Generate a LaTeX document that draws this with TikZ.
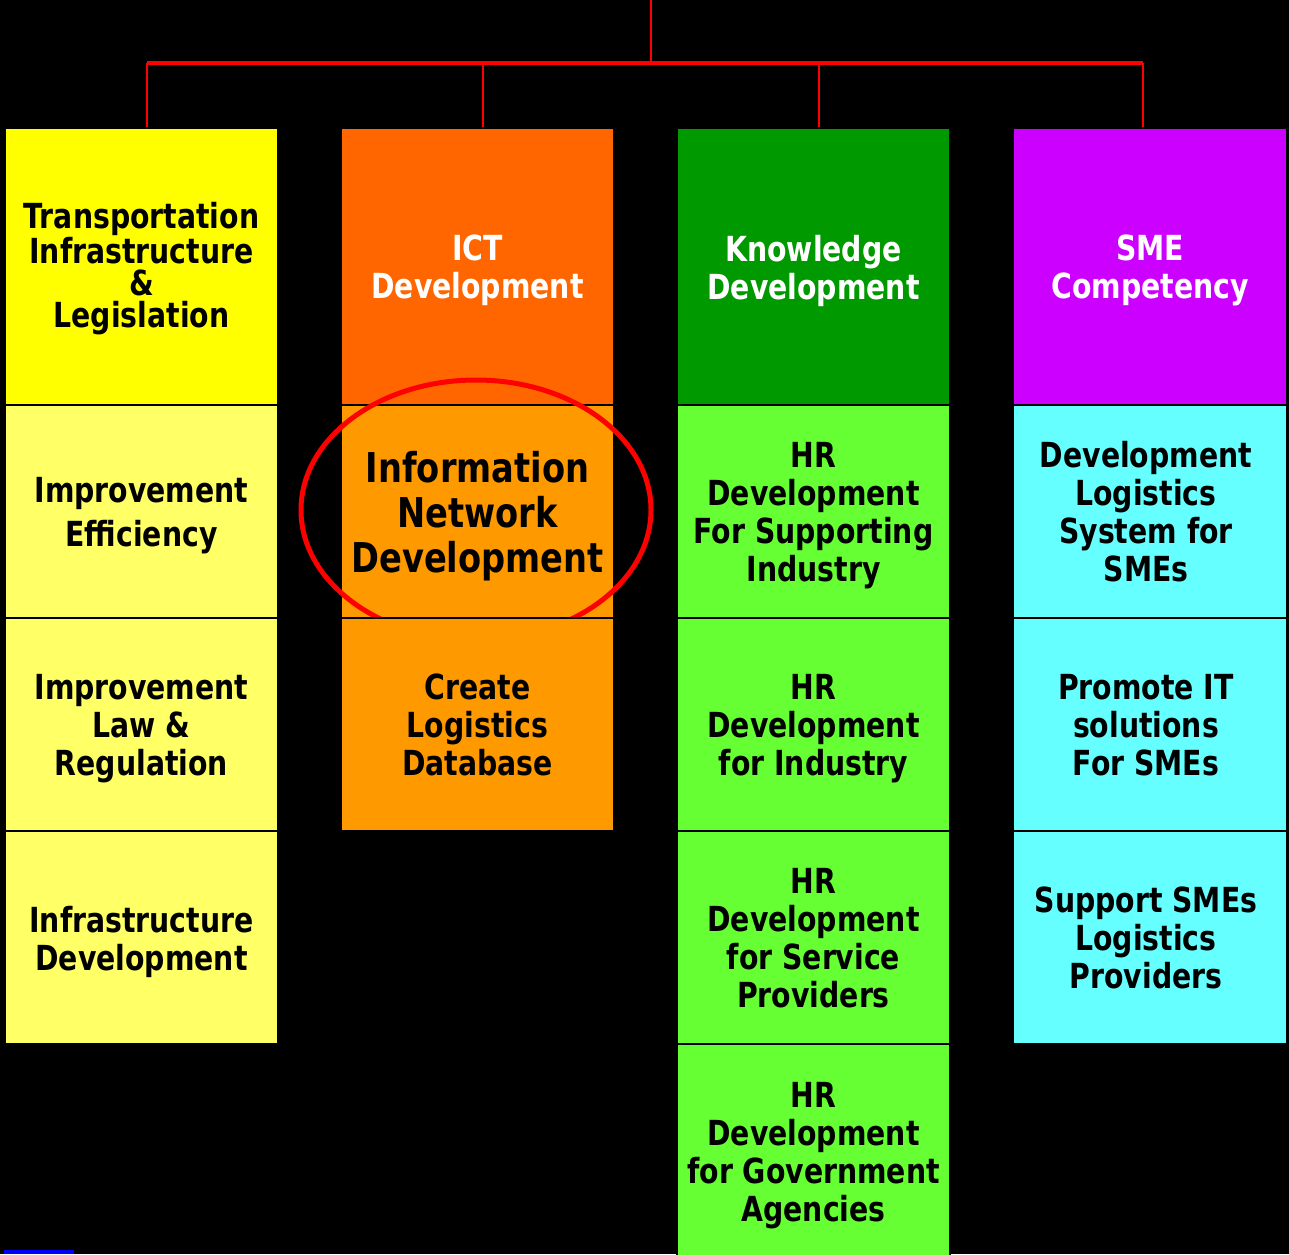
\documentclass[tikz,border=0pt]{standalone}
\usepackage{fontspec}
\newfontfamily\boxfont{DejaVu Sans Bold}[FakeStretch=0.82]
\def\px{0.75pt}
\newcommand\lastdp{\rule[-6.2pt]{0pt}{6.2pt}}
\definecolor{hYel}{HTML}{FFFF00}
\definecolor{rYel}{HTML}{FFFF66}
\definecolor{hOra}{HTML}{FF6600}
\definecolor{rOra}{HTML}{FF9900}
\definecolor{hGre}{HTML}{009900}
\definecolor{rGre}{HTML}{66FF33}
\definecolor{hPur}{HTML}{CC00FF}
\definecolor{rCya}{HTML}{66FFFF}
\definecolor{lineRed}{HTML}{FF0000}
\definecolor{barBlue}{HTML}{0000FF}
\tikzset{
  cell/.style={draw=black, line width=1.5*\px, minimum width=273*\px, inner sep=0pt},
  hdr/.style={cell, minimum height=277*\px},
  row/.style={cell, minimum height=213*\px},
  txt/.style={inner sep=0pt, align=center, text=black, yshift=-3.2pt,
    font=\boxfont\fontsize{25.9pt}{28.5pt}\selectfont},
  whitetext/.style={text=white},
  bigtext/.style={font=\boxfont\fontsize{30.8pt}{33.75pt}\selectfont},
  redline/.style={draw=lineRed, line width=2.5*\px},
  redbar/.style={draw=lineRed, line width=4*\px},
}
\begin{document}
\begin{tikzpicture}[x=0.75pt, y=-0.75pt]
\useasboundingbox (0,0) rectangle (1289,1254);
\fill[black] (0,0) rectangle (1289,1254);

% header row
\node[hdr, fill=hYel] (h1) at (141.5,266.5) {};
\node[txt, font=\boxfont\fontsize{25.9pt}{24.2pt}\selectfont, yshift=1.5pt] (h1t) at (h1.center) {Transportation\\Infrastructure\\\&\\Legislation};
\node[hdr, fill=hOra] (h2) at (477.5,266.5) {};
\node[txt, whitetext] (h2t) at (h2.center) {ICT\\Development};
\node[hdr, fill=hGre] (h3) at (813.5,266.5) {};
\node[txt, whitetext] (h3t) at (h3.center) {Knowledge\\Development};
\node[hdr, fill=hPur] (h4) at (1150,266.5) {};
\node[txt, whitetext] (h4t) at (h4.center) {SME\\Competency};

% row 1
\node[row, fill=rYel] (a1) at (141.5,511.5) {};
\node[txt, font=\boxfont\fontsize{25.9pt}{33pt}\selectfont] (a1t) at (a1.center) {Improvement\\Efficiency};
\node[row, fill=rOra] (b1) at (477.5,511.5) {};
\node[txt, bigtext] (b1t) at (b1.center) {Information\\Network\\Development};
\node[row, fill=rGre] (c1) at (813.5,511.5) {};
\node[txt] (c1t) at (c1.center) {HR\\Development\\For Supporting\\Industry};
\node[row, fill=rCya] (d1) at (1150,511.5) {};
\node[txt, xshift=-3pt] (d1t) at (d1.center) {Development\\Logistics\\System for\\SMEs\lastdp};

% highlight ellipse
\draw[draw=lineRed, line width=5*\px] (476,510) ellipse [x radius=175, y radius=130];

% row 2
\node[row, fill=rYel] (a2) at (141.5,724.5) {};
\node[txt] (a2t) at (a2.center) {Improvement\\Law \&\\Regulation};
\node[row, fill=rOra] (b2) at (477.5,724.5) {};
\node[txt] (b2t) at (b2.center) {Create\\Logistics\\Database\lastdp};
\node[row, fill=rGre] (c2) at (813.5,724.5) {};
\node[txt] (c2t) at (c2.center) {HR\\Development\\for Industry};
\node[row, fill=rCya] (d2) at (1150,724.5) {};
\node[txt, xshift=-3pt] (d2t) at (d2.center) {Promote IT\\solutions\\For SMEs\lastdp};

% row 3
\node[row, fill=rYel] (a3) at (141.5,937.5) {};
\node[txt] (a3t) at (a3.center) {Infrastructure\\Development};
\node[row, fill=rGre] (c3) at (813.5,937.5) {};
\node[txt] (c3t) at (c3.center) {HR\\Development\\for Service\\Providers\lastdp};
\node[row, fill=rCya] (d3) at (1150,937.5) {};
\node[txt, xshift=-3pt] (d3t) at (d3.center) {Support SMEs\\Logistics\\Providers\lastdp};

% row 4
\node[row, fill=rGre, minimum height=220*\px] (c4) at (813.5,1154) {};
\node[txt, yshift=2.2pt] (c4t) at (c4.center) {HR\\Development\\for Government\\Agencies};

% connectors
\coordinate (top) at (651,0);
\coordinate (hub) at (651,63);
\coordinate (k1) at (147,63);
\coordinate (k2) at (483,63);
\coordinate (k3) at (819,63);
\coordinate (k4) at (1143,63);
\draw[redline] (top) -- (hub);
\draw[redbar] (k1) -- (k4);
\draw[redline] (k1) -- (k1 |- h1.north);
\draw[redline] (k2) -- (k2 |- h2.north);
\draw[redline] (k3) -- (k3 |- h3.north);
\draw[redline] (k4) -- (k4 |- h4.north);

% small blue bar bottom-left
\fill[barBlue] (4,1250) rectangle (74,1254);
\end{tikzpicture}
\end{document}
